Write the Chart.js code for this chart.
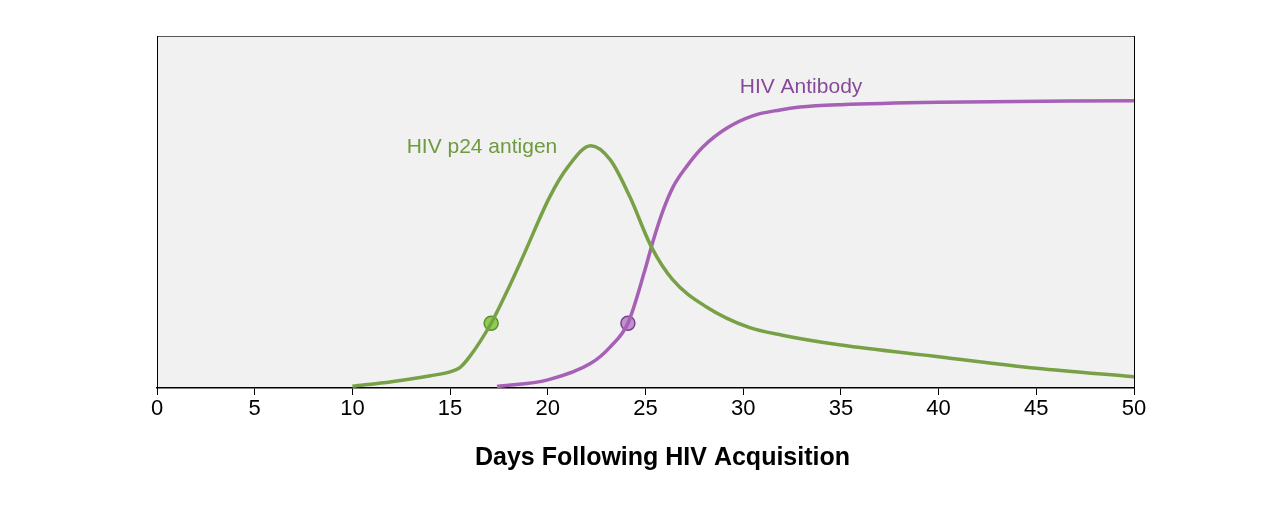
<!DOCTYPE html>
<html>
<head>
<meta charset="utf-8">
<script src="https://cdn.jsdelivr.net/npm/chart.js@4"></script>
<style>
    html, body { margin: 0; padding: 0; background: #ffffff; }
    #wrap { width: 1280px; height: 506px; }
</style>
</head>
<body>
<div id="wrap"><canvas id="hivChart" width="1280" height="506"></canvas></div>
<script>
// Days and relative levels
const dayTicks = [0, 5, 10, 15, 20, 25, 30, 35, 40, 45, 50];

const p24Days   = [10, 12, 14, 15, 15.5, 16, 17.1, 18, 18.75, 20.1, 21, 22.2, 23.2, 24.2, 25.3, 26.4, 28.1, 30.3, 32, 35, 40, 45, 50];
const p24Values = [0.5, 1.8, 3.5, 4.6, 5.8, 8.9, 18.4, 28.5, 37.6, 54.3, 62.6, 68.8, 64.8, 54.3, 40.1, 30.7, 23.1, 17.2, 15.0, 12.2, 8.9, 5.6, 3.2];

const antibodyDays   = [17.4, 20, 22.2, 23.2, 24.1, 24.97, 25.4, 25.91, 26.42, 27.1, 27.96, 29.15, 30.52, 31.88, 32.9, 35, 40, 50];
const antibodyValues = [0.4, 2.3, 7.0, 11.7, 18.4, 33.5, 42.0, 50.6, 57.2, 62.9, 68.6, 73.8, 77.4, 79.0, 79.8, 80.5, 81.2, 81.6];

// Detection points (first detectable day for each test)
const p24DetectDay = [17.1];
const p24DetectValue = [18.4];
const antibodyDetectDay = [24.1];
const antibodyDetectValue = [18.4];

// Curve labels: [text, day, level, colour]
const curveLabels = [
    ['HIV p24 antigen', 16.63, 68.5, '#6f9a3f'],
    ['HIV Antibody', 32.96, 85.5, '#874a98']
];

const axisTitle = 'Days Following HIV Acquisition';

const toPoints = (xs, ys) => xs.map((x, i) => ({ x: x, y: ys[i] }));

const FONT = "'Liberation Sans', Arial, sans-serif";

// Grey plot background
const plotBackground = {
    id: 'plotBackground',
    beforeDraw(chart) {
        const { ctx, chartArea: a } = chart;
        ctx.save();
        ctx.fillStyle = '#f1f1f1';
        ctx.fillRect(a.left, a.top, a.right - a.left, a.bottom - a.top);
        ctx.restore();
    }
};

// Text labels next to each curve, plus the x axis title
const curveText = {
    id: 'curveText',
    afterDatasetsDraw(chart) {
        const { ctx, scales, chartArea } = chart;
        ctx.save();
        ctx.font = '21px ' + FONT;
        ctx.textAlign = 'center';
        ctx.textBaseline = 'middle';
        curveLabels.forEach(([text, day, level, color]) => {
            ctx.fillStyle = color;
            ctx.fillText(text, scales.x.getPixelForValue(day), scales.y.getPixelForValue(level));
        });
        // title sits a little right of the plot centre in the original
        ctx.font = 'bold 25px ' + FONT;
        ctx.fillStyle = '#000000';
        ctx.fillText(axisTitle, (chartArea.left + chartArea.right) / 2 + 17, chartArea.bottom + 70);
        ctx.restore();
    }
};

new Chart(document.getElementById('hivChart'), {
    type: 'line',
    data: {
        datasets: [
            {
                label: 'HIV p24 antigen',
                data: toPoints(p24Days, p24Values),
                borderColor: '#78a046',
                borderWidth: 3.5,
                pointRadius: 0,
                cubicInterpolationMode: 'monotone',
                fill: false
            },
            {
                label: 'HIV Antibody',
                data: toPoints(antibodyDays, antibodyValues),
                borderColor: '#a660b6',
                borderWidth: 3.5,
                pointRadius: 0,
                cubicInterpolationMode: 'monotone',
                fill: false
            },
            {
                label: 'p24 detection',
                data: toPoints(p24DetectDay, p24DetectValue),
                showLine: false,
                pointRadius: 7,
                pointBackgroundColor: '#8dcf4c',
                pointBorderColor: '#5f8c32',
                pointBorderWidth: 1.5
            },
            {
                label: 'Antibody detection',
                data: toPoints(antibodyDetectDay, antibodyDetectValue),
                showLine: false,
                pointRadius: 7,
                pointBackgroundColor: '#c190cc',
                pointBorderColor: '#7b3d8a',
                pointBorderWidth: 1.5
            }
        ]
    },
    options: {
        responsive: false,
        animation: false,
        events: [],
        layout: { padding: 0 },
        plugins: {
            legend: { display: false },
            tooltip: { enabled: false }
        },
        scales: {
            x: {
                type: 'linear',
                position: 'bottom',
                min: 0,
                max: 50,
                afterBuildTicks: (s) => { s.ticks = dayTicks.map(v => ({ value: v })); },
                afterFit: (s) => { s.height = 118; },
                grid: {
                    display: true,
                    drawOnChartArea: false,
                    drawTicks: true,
                    tickLength: 7,
                    color: '#000000',
                    lineWidth: 1
                },
                border: { display: true, color: '#000000', width: 1.5 },
                ticks: {
                    color: '#000000',
                    padding: 1,
                    maxRotation: 0,
                    font: { family: FONT, size: 22 }
                },
                title: { display: false }
            },
            xTop: {
                type: 'linear',
                position: 'top',
                min: 0,
                max: 50,
                afterFit: (s) => { s.height = 36; },
                grid: { display: false },
                border: { display: true, color: '#555555', width: 1 },
                ticks: { display: false }
            },
            y: {
                type: 'linear',
                position: 'left',
                min: 0,
                max: 100,
                afterFit: (s) => { s.width = 157; },
                grid: { display: false },
                border: { display: true, color: '#000000', width: 1 },
                ticks: { display: false }
            },
            yRight: {
                type: 'linear',
                position: 'right',
                min: 0,
                max: 100,
                afterFit: (s) => { s.width = 146; },
                grid: { display: false },
                border: { display: true, color: '#000000', width: 1 },
                ticks: { display: false }
            }
        }
    },
    plugins: [plotBackground, curveText]
});
</script>
</body>
</html>
